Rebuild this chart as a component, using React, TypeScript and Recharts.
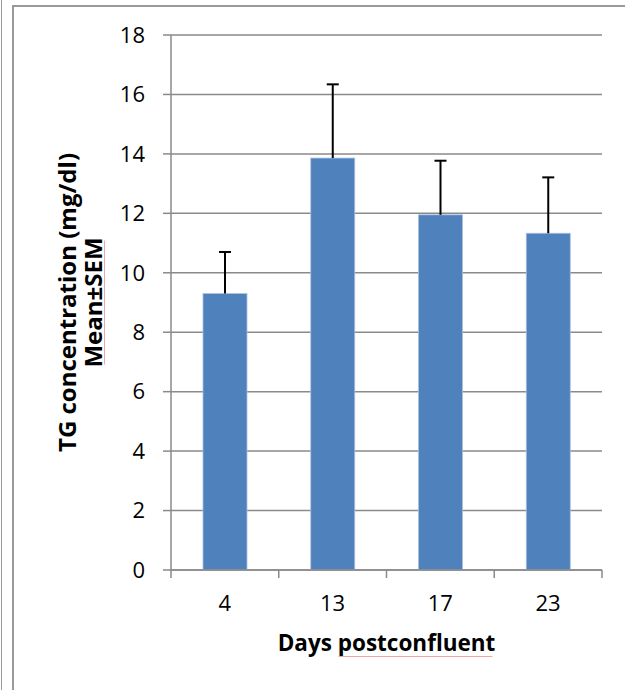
import { BarChart, Bar, XAxis, YAxis, CartesianGrid } from 'recharts'

const days = ['4', '13', '17', '23']
const tgMean = [9.3, 13.86, 11.95, 11.33]
const tgSem = [1.4, 2.48, 1.82, 1.88]
const yTicks = [0, 2, 4, 6, 8, 10, 12, 14, 16, 18]

const data = days.map((d, i) => ({ day: d, mean: tgMean[i], sem: tgSem[i] }))

const GRID = '#8a8a8a'
const FONT = '"Open Sans", sans-serif'
const TICK_GAP = 25
const SQUIGGLE = '#f3a5a5'

// bar plus an upper-only error whisker, scaled off the bar's own pixel height
function BarWithError(props: any) {
  const { x, y, width, height, payload, fill } = props
  const perUnit = height / payload.mean
  const top = y - payload.sem * perUnit
  const cx = x + width / 2
  return (
    <g>
      <rect x={x} y={y} width={width} height={height} fill={fill} stroke="#a9c0df" strokeWidth={0.8} />
      <line x1={cx} y1={y} x2={cx} y2={top} stroke="#000" strokeWidth={2} />
      <line x1={cx - 6} y1={top} x2={cx + 6} y2={top} stroke="#000" strokeWidth={2} />
    </g>
  )
}

// category label in the middle, tick marks on the band edges (Excel style)
function DayTick(props: any) {
  const { x, y, payload, index, visibleTicksCount, width } = props
  const band = (width || 431) / visibleTicksCount
  const axisY = y - TICK_GAP
  const left = x - band / 2
  return (
    <g>
      <line x1={left} y1={axisY} x2={left} y2={axisY + 8} stroke={GRID} strokeWidth={1.5} />
      {index === visibleTicksCount - 1 && (
        <line x1={x + band / 2} y1={axisY} x2={x + band / 2} y2={axisY + 8} stroke={GRID} strokeWidth={1.5} />
      )}
      <text x={x} y={y} dy="0.71em" textAnchor="middle" fontSize={22} fontFamily={FONT} fill="#000">
        {payload.value}
      </text>
    </g>
  )
}

function YTitle(props: any) {
  const { viewBox } = props
  const cy = viewBox.y + viewBox.height / 2
  return (
    <g fontFamily={FONT} fontWeight="bold" fontSize={24} fill="#000">
      <text x={76} y={cy} textAnchor="middle" transform={`rotate(-90, 76, ${cy})`}>
        TG concentration (mg/dl)
      </text>
      <text x={102} y={cy} textAnchor="middle" transform={`rotate(-90, 102, ${cy})`}>
        Mean±SEM
      </text>
      {/* spell-check underline from the original */}
      <line x1={104.5} y1={cy - 62} x2={104.5} y2={cy + 62} stroke={SQUIGGLE} strokeWidth={1} />
    </g>
  )
}

function XTitle(props: any) {
  const { viewBox } = props
  const cx = viewBox.x + viewBox.width / 2
  return (
    <g>
      <text x={cx} y={651} textAnchor="middle" fontFamily={FONT} fontWeight="bold" fontSize={22.5} fill="#000">
        Days postconfluent
      </text>
      <line x1={cx - 48} y1={656.5} x2={cx + 106} y2={656.5} stroke={SQUIGGLE} strokeWidth={1} />
    </g>
  )
}

export default function App() {
  return (
    <div style={{ position: 'absolute', left: 0, top: 0, width: 625, height: 690, background: '#fff', overflow: 'hidden' }}>
      <div style={{ position: 'absolute', left: 1, top: 0, width: 1, height: 690, background: '#9a9a9a' }} />
      <div style={{ position: 'absolute', left: 12, top: 5, width: 640, height: 720, borderTop: '2px solid #9a9a9a', borderLeft: '2px solid #9a9a9a' }} />
      <div style={{ position: 'absolute', left: 0, top: 0 }}>
        <BarChart width={625} height={690} data={data} margin={{ top: 35, right: 23, bottom: 0, left: 0 }} barSize={44}>
          <CartesianGrid vertical={false} stroke={GRID} strokeWidth={1.5} />
          <YAxis
            domain={[0, 18]}
            ticks={yTicks}
            width={171}
            tickSize={8}
            tickMargin={18}
            stroke={GRID}
            strokeWidth={1.5}
            tick={{ fontSize: 22, fontFamily: FONT, fill: '#000' }}
            label={<YTitle />}
          />
          <XAxis
            dataKey="day"
            height={120}
            tickLine={false}
            tickSize={0}
            tickMargin={TICK_GAP}
            stroke={GRID}
            strokeWidth={1.5}
            tick={<DayTick />}
            label={<XTitle />}
          />
          <Bar dataKey="mean" fill="#4f81bd" shape={<BarWithError />} isAnimationActive={false} />
        </BarChart>
      </div>
    </div>
  )
}
